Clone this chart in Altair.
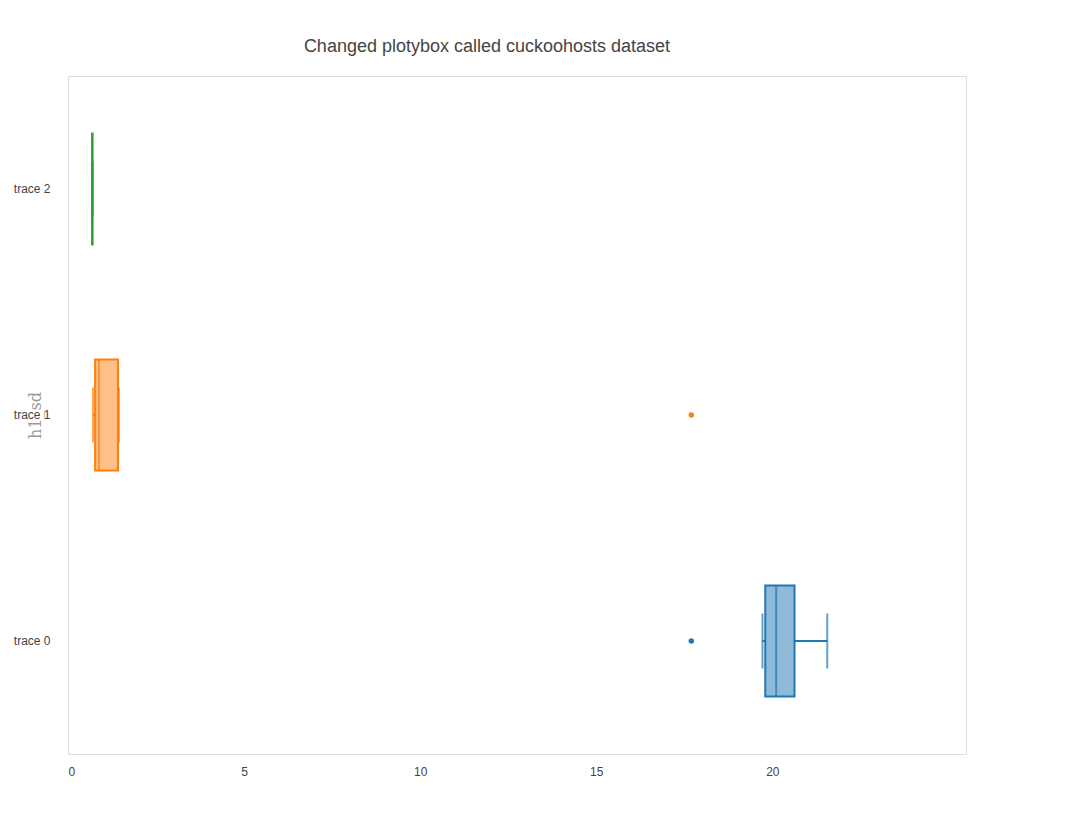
import altair as alt
import pandas as pd

traces = ["trace 0", "trace 1", "trace 2"]
colors = ["#1f77b4", "#ff7f0e", "#2ca02c"]
lower = [19.72, 0.71, 0.68]
q1 = [19.80, 0.77, 0.685]
median = [20.11, 0.88, 0.69]
q3 = [20.63, 1.42, 0.695]
upper = [21.56, 1.45, 0.70]
out_trace = ["trace 0", "trace 1"]
out_value = [17.70, 17.70]

df = pd.DataFrame({"trace": traces, "lower": lower, "q1": q1, "median": median,
                   "q3": q3, "upper": upper})
outs = pd.DataFrame({"trace": out_trace, "value": out_value})

xs = alt.Scale(domain=[0, 25.5], nice=False, zero=False)
ys = alt.Scale(domain=["trace 2", "trace 1", "trace 0"], paddingInner=0, paddingOuter=0)
cs = alt.Scale(domain=traces, range=colors)
y = alt.Y("trace:N", scale=ys, title="h1_sd",
          axis=alt.Axis(labelFontSize=12, labelColor="#444", ticks=False, domain=False,
                        titleFont="DejaVu Serif", titleFontSize=16, titleColor="#999",
                        titleFontWeight="normal", titlePadding=-30, labelPadding=18))

base = alt.Chart(df)
whisk_lo = base.mark_rule(strokeWidth=2).encode(
    x=alt.X("lower:Q", scale=xs, title=None,
            axis=alt.Axis(values=[0, 5, 10, 15, 20], grid=False, domain=False, ticks=False,
                          labelFontSize=12, labelColor="#444", labelPadding=12)),
    x2="q1:Q", y=y, color=alt.Color("trace:N", scale=cs, legend=None))
whisk_hi = base.mark_rule(strokeWidth=2).encode(
    x="q3:Q", x2="upper:Q", y=y, color=alt.Color("trace:N", scale=cs, legend=None))
cap_lo = base.mark_tick(size=55, thickness=2).encode(
    x="lower:Q", y=y, color=alt.Color("trace:N", scale=cs, legend=None))
cap_hi = base.mark_tick(size=55, thickness=2).encode(
    x="upper:Q", y=y, color=alt.Color("trace:N", scale=cs, legend=None))
box = base.mark_bar(size=111, fillOpacity=0.5, strokeWidth=2).encode(
    x="q1:Q", x2="q3:Q", y=y,
    fill=alt.Fill("trace:N", scale=cs, legend=alt.Legend(
        title=None, orient="none", legendX=830, legendY=-30, symbolType="square",
        symbolSize=150, symbolStrokeWidth=2, labelFontSize=12,
        labelColor="#444")),
    stroke=alt.Stroke("trace:N", scale=cs))
med = base.mark_tick(size=111, thickness=2).encode(
    x="median:Q", y=y, color=alt.Color("trace:N", scale=cs, legend=None))
pts = alt.Chart(outs).mark_circle(size=30, opacity=1).encode(
    x="value:Q", y=y, color=alt.Color("trace:N", scale=cs, legend=None))

chart = alt.layer(whisk_lo, whisk_hi, cap_lo, cap_hi, box, med, pts).properties(
    width=898, height=678,
    title=alt.Title("Changed plotybox called cuckoohosts dataset", fontSize=18,
                    fontWeight="normal", color="#444", anchor="middle", offset=20,
                    dx=-30)
).configure_view(stroke=None).configure(padding={"left": 5, "top": 30, "right": 5, "bottom": 5})

chart.save("out.html", embed_options={"renderer": "svg", "actions": False})
